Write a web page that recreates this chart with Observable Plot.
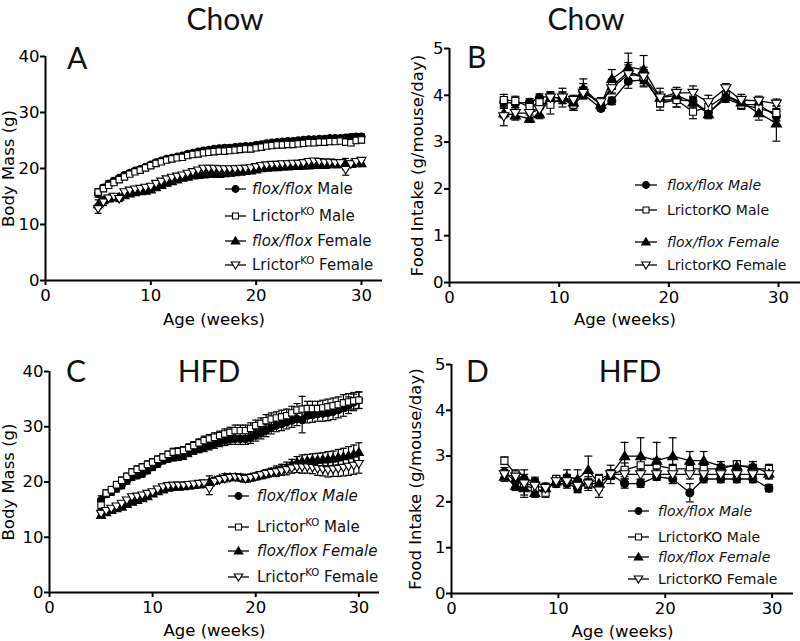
<!DOCTYPE html>
<html><head><meta charset="utf-8">
<script src="https://cdn.jsdelivr.net/npm/d3@7"></script>
<script src="https://cdn.jsdelivr.net/npm/@observablehq/plot@0.6"></script>
<style>
body{margin:0;background:#fff;}
#wrap{position:relative;width:800px;height:641px;overflow:hidden;font-family:"DejaVu Sans",sans-serif;}
.panel{position:absolute;}
#overlay{position:absolute;left:0;top:0;}
</style></head><body><div id="wrap"></div>
<script>
// ---------- data ----------
const seriesNames = ["flox/flox Male", "LrictorKO Male", "flox/flox Female", "LrictorKO Female"];
const xTicks = [0, 10, 20, 30];
const massTicks = [0, 10, 20, 30, 40];
const intakeTicks = [0, 1, 2, 3, 4, 5];

const weeksDense = [5,5.5,6,6.5,7,7.5,8,8.5,9,9.5,10,10.5,11,11.5,12,12.5,13,13.5,14,14.5,15,15.5,16,16.5,17,17.5,18,18.5,19,19.5,20,20.5,21,21.5,22,22.5,23,23.5,24,24.5,25,25.5,26,26.5,27,27.5,28,28.5,29,29.5,30];

// Panel A: Chow body mass
const fmA = [15.5,16.6,17.3,17.8,18.3,18.8,19.2,19.6,19.9,20.3,20.7,21.1,21.4,21.7,21.9,22.1,22.3,22.6,22.8,23.0,23.2,23.3,23.5,23.6,23.7,23.7,23.8,23.9,24.0,24.0,24.2,24.3,24.5,24.6,24.7,24.8,24.9,24.9,25.0,25.1,25.2,25.2,25.3,25.3,25.4,25.4,25.4,25.5,25.6,25.7,25.7];
const kmA = [15.8,16.4,17.0,17.5,18.0,18.5,19.0,19.4,19.7,20.1,20.5,20.9,21.2,21.5,21.7,21.9,22.0,22.3,22.5,22.6,22.8,22.9,23.0,23.1,23.1,23.2,23.3,23.4,23.5,23.5,23.7,23.8,24.0,24.1,24.2,24.2,24.3,24.3,24.4,24.5,24.6,24.6,24.7,24.7,24.8,24.8,24.9,24.7,24.6,25.0,25.1];
const ffA = [13.6,14.3,14.6,14.8,14.9,15.2,15.5,15.7,15.9,16.0,16.2,16.6,17.0,17.4,17.7,18.0,18.3,18.5,18.7,18.8,18.9,19.0,19.0,19.0,19.1,19.2,19.3,19.4,19.5,19.6,19.8,20.0,20.1,20.2,20.2,20.3,20.3,20.4,20.4,20.5,20.5,20.6,20.6,20.6,20.7,20.7,20.7,20.8,20.8,20.9,20.9];
const kfA = [12.8,14.0,14.7,15.0,14.6,15.8,16.1,16.3,16.4,16.6,16.8,17.3,17.7,18.1,18.4,18.6,18.8,19.1,19.4,19.7,20.0,20.0,20.0,19.9,19.9,19.9,19.9,20.0,20.0,20.1,20.3,20.5,20.6,20.7,20.7,20.8,20.8,20.9,20.9,21.0,21.2,21.3,21.2,21.1,21.1,21.0,21.0,19.8,20.8,21.2,21.4];
const semA_M = [0.6,0.5,0.5,0.5,0.4,0.4,0.4,0.4,0.4,0.4,0.4,0.4,0.4,0.4,0.4,0.4,0.4,0.4,0.4,0.4,0.4,0.4,0.4,0.4,0.4,0.4,0.4,0.4,0.4,0.4,0.4,0.4,0.4,0.4,0.4,0.4,0.4,0.4,0.4,0.4,0.4,0.4,0.4,0.4,0.4,0.4,0.4,0.5,0.5,0.5,0.5];
const semA_F = [0.8,0.6,0.5,0.5,0.5,0.4,0.4,0.4,0.4,0.4,0.4,0.4,0.4,0.4,0.4,0.4,0.4,0.4,0.4,0.4,0.4,0.4,0.4,0.4,0.4,0.4,0.4,0.4,0.4,0.4,0.4,0.4,0.4,0.4,0.4,0.4,0.4,0.4,0.4,0.4,0.4,0.4,0.4,0.4,0.4,0.4,0.4,1.0,0.5,0.5,0.5];

// Panel C: HFD body mass
const fmC = [16.7,17.8,18.2,18.8,19.4,20.2,20.9,21.2,21.5,22.1,22.7,23.3,23.9,24.2,24.5,24.6,24.8,25.3,25.7,26.0,26.3,26.6,26.9,27.2,27.5,27.7,27.8,27.8,27.8,28.0,28.4,28.8,29.3,29.8,30.2,30.5,30.8,31.1,31.4,31.2,32.0,32.1,32.3,32.4,32.5,32.7,33.0,33.4,33.9,34.4,34.8];
const kmC = [15.8,18.0,18.6,19.5,20.3,21.0,21.8,22.3,22.7,23.2,23.6,24.1,24.5,25.0,25.4,25.5,25.7,26.2,26.6,27.1,27.5,27.8,28.1,28.4,28.7,29.0,29.3,29.3,29.3,29.7,30.2,30.6,31.1,31.4,31.6,31.8,32.0,32.5,33.0,33.2,33.3,33.3,33.3,33.4,33.6,33.8,34.0,34.3,34.5,34.7,34.8];
const ffC = [14.0,14.5,14.9,15.2,15.5,16.0,16.4,16.7,17.0,17.4,17.9,18.3,18.6,18.9,19.1,19.1,19.2,19.3,19.4,19.5,19.6,20.0,20.3,20.6,20.9,20.9,20.9,20.8,20.6,20.8,21.0,21.2,21.5,21.8,22.1,22.4,22.7,23.2,23.6,23.8,23.9,24.0,24.0,24.1,24.2,24.3,24.5,24.6,24.8,25.1,25.4];
const kfC = [14.3,14.8,15.2,15.6,16.1,16.7,17.3,17.4,17.6,17.9,18.2,18.7,19.1,19.3,19.4,19.4,19.4,19.5,19.6,19.7,19.8,18.8,20.1,20.4,20.6,20.8,20.9,20.8,20.6,20.8,21.0,21.3,21.5,21.7,21.8,22.0,22.2,22.5,22.7,22.7,22.7,22.6,22.4,22.3,22.2,22.3,22.4,22.6,22.8,23.0,23.3];
const semC_M = [0.8,0.6,0.6,0.6,0.6,0.6,0.6,0.6,0.6,0.6,0.6,0.6,0.6,0.6,0.7,0.7,0.7,0.7,0.7,0.7,0.8,0.8,0.8,0.8,0.9,0.9,1.0,1.0,1.0,1.0,1.0,1.0,1.1,1.1,1.1,1.2,1.2,1.2,1.2,2.3,1.3,1.3,1.3,1.4,1.4,1.4,1.4,1.5,1.5,1.5,1.5];
const semC_F = [0.5,0.4,0.4,0.4,0.4,0.4,0.4,0.4,0.4,0.4,0.4,0.4,0.4,0.4,0.4,0.4,0.4,0.4,0.4,0.4,0.4,1.1,0.5,0.5,0.6,0.6,0.6,0.6,0.6,0.6,0.6,0.6,0.7,0.7,0.8,0.8,0.9,0.9,1.0,1.1,1.1,1.1,1.2,1.2,1.3,1.3,1.4,1.5,1.6,1.6,1.7];

// Panel B: Chow food intake
const weeksB = [4.95,6.0,7.3,8.2,9.2,10.3,11.3,12.2,13.8,14.8,16.3,17.7,19.2,20.7,22.2,23.6,25.2,26.6,28.2,29.8];
const fmB = [3.85,3.83,3.85,3.95,3.98,3.92,3.78,4.02,3.72,3.88,4.3,4.33,3.9,3.9,3.88,3.63,3.93,3.8,3.8,3.55];
const kmB = [3.9,3.88,3.75,3.85,3.8,3.95,3.8,4.1,3.8,4.2,4.5,4.4,3.83,3.9,3.65,3.75,4.0,3.8,3.72,3.62];
const ffB = [3.62,3.57,3.5,3.6,3.95,3.95,3.85,4.15,3.8,4.35,4.6,4.55,3.95,4.0,3.85,3.6,4.0,3.85,3.62,3.4];
const kfB = [3.55,3.62,3.62,3.7,3.95,3.95,3.9,4.05,3.85,4.15,4.45,4.4,3.95,4.05,4.05,3.85,4.15,3.9,3.88,3.82];
const semB_fm = [0.1,0.1,0.08,0.08,0.1,0.1,0.1,0.1,0.05,0.08,0.15,0.15,0.1,0.15,0.1,0.1,0.08,0.08,0.1,0.1];
const semB_km = [0.12,0.1,0.1,0.1,0.2,0.2,0.12,0.15,0.1,0.15,0.2,0.2,0.15,0.15,0.15,0.12,0.1,0.1,0.1,0.15];
const semB_ff = [0.1,0.1,0.08,0.1,0.1,0.12,0.1,0.2,0.1,0.2,0.3,0.3,0.2,0.1,0.1,0.1,0.1,0.1,0.15,0.38];
const semB_kf = [0.2,0.12,0.12,0.12,0.1,0.12,0.1,0.12,0.1,0.12,0.2,0.15,0.12,0.12,0.15,0.15,0.1,0.12,0.1,0.1];

// Panel D: HFD food intake
const weeksD = [4.95,6.0,6.8,7.8,8.8,9.8,10.8,11.8,12.8,13.8,14.9,16.2,17.7,19.2,20.7,22.3,23.6,25.2,26.7,28.2,29.7];
const fmD = [2.65,2.44,2.5,2.44,2.33,2.4,2.4,2.3,2.4,2.4,2.6,2.4,2.4,2.55,2.5,2.2,2.5,2.5,2.5,2.5,2.3];
const kmD = [2.9,2.6,2.35,2.3,2.2,2.5,2.5,2.4,2.4,2.5,2.6,2.7,2.8,2.8,2.72,2.72,2.72,2.72,2.82,2.72,2.72];
const ffD = [2.55,2.35,2.3,2.2,2.3,2.45,2.55,2.5,2.7,2.4,2.6,3.0,3.0,2.9,3.0,2.9,2.9,2.78,2.78,2.78,2.62];
const kfD = [2.6,2.55,2.4,2.35,2.3,2.45,2.45,2.35,2.4,2.25,2.6,2.6,2.6,2.6,2.6,2.6,2.6,2.6,2.6,2.6,2.6];
const semD_fm = [0.1,0.1,0.1,0.1,0.08,0.08,0.1,0.08,0.1,0.1,0.1,0.1,0.08,0.08,0.1,0.2,0.08,0.08,0.08,0.08,0.08];
const semD_km = [0.08,0.1,0.1,0.15,0.1,0.08,0.1,0.1,0.1,0.1,0.1,0.15,0.15,0.15,0.1,0.1,0.1,0.1,0.08,0.1,0.1];
const semD_ff = [0.1,0.1,0.15,0.1,0.08,0.1,0.15,0.2,0.3,0.15,0.2,0.3,0.4,0.4,0.4,0.2,0.2,0.1,0.1,0.1,0.1];
const semD_kf = [0.1,0.1,0.3,0.15,0.1,0.1,0.1,0.15,0.15,0.15,0.1,0.1,0.1,0.1,0.1,0.1,0.1,0.1,0.1,0.1,0.1];

// legend labels (runs: [text, italic, superscript])
const legendSup = [
  [["flox/flox", 1, 0], [" Male", 0, 0]],
  [["Lrictor", 0, 0], ["KO", 0, 1], [" Male", 0, 0]],
  [["flox/flox", 1, 0], [" Female", 0, 0]],
  [["Lrictor", 0, 0], ["KO", 0, 1], [" Female", 0, 0]]
];
const legendSupItal = [
  [["flox/flox Male", 1, 0]],
  [["Lrictor", 0, 0], ["KO", 0, 1], [" Male", 0, 0]],
  [["flox/flox Female", 1, 0]],
  [["Lrictor", 0, 0], ["KO", 0, 1], [" Female", 0, 0]]
];
const legendPlain = [
  [["flox/flox Male", 1, 0]],
  [["LrictorKO Male", 0, 0]],
  [["flox/flox Female", 1, 0]],
  [["LrictorKO Female", 0, 0]]
];

// ---------- symbols ----------
const triUp = {draw(ctx, size){ const r = Math.sqrt(size/Math.PI); const h = r*1.2; ctx.moveTo(0,-h); ctx.lineTo(h*1.05,h*0.75); ctx.lineTo(-h*1.05,h*0.75); ctx.closePath(); }};
const triDown = {draw(ctx, size){ const r = Math.sqrt(size/Math.PI); const h = r*1.2; ctx.moveTo(0,h); ctx.lineTo(h*1.05,-h*0.75); ctx.lineTo(-h*1.05,-h*0.75); ctx.closePath(); }};
const capSym = {draw(ctx, size){ const r = Math.sqrt(size/Math.PI); ctx.moveTo(-r,0); ctx.lineTo(r,0); }};
const syms = [d3.symbolCircle, d3.symbolSquare, triUp, triDown];
const filled = [true, false, true, false];

const wrap = document.getElementById("wrap");

function drawPanel(cfg) {
  const rows = [];
  cfg.values.forEach((vals, i) => vals.forEach((v, j) => {
    const e = cfg.sems[i][j];
    rows.push({series: seriesNames[i], idx: i, week: cfg.weeks[j], value: v, lo: v - e, hi: v + e});
  }));
  const chart = Plot.plot({
    width: cfg.width, height: cfg.height,
    marginLeft: cfg.ml, marginRight: cfg.mr, marginTop: cfg.mt, marginBottom: cfg.mb,
    style: {fontFamily: "DejaVu Sans", fontSize: "16.5px", color: "black", background: "transparent", overflow: "visible"},
    x: {domain: [0, 32]},
    y: {domain: cfg.yDomain},
    marks: [
      Plot.axisX({ticks: xTicks, tickFormat: d => String(d), tickSize: 5, tickPadding: 4, strokeWidth: 2, fontSize: 16.5,
        label: "Age (weeks)", labelAnchor: "center", labelArrow: "none", labelOffset: cfg.xlo}),
      Plot.axisY({ticks: cfg.yTicks, tickFormat: d => String(d), tickSize: 5, tickPadding: 1, strokeWidth: 2, fontSize: 16.5,
        label: cfg.yLabel, labelAnchor: "center", labelArrow: "none", labelOffset: cfg.ylo}),
      Plot.ruleX([0], {strokeWidth: 2}),
      Plot.ruleY([0], {strokeWidth: 2}),
      Plot.ruleX(rows, {x: "week", y1: "lo", y2: "hi", stroke: "black", strokeWidth: 1.2}),
      Plot.dot(rows, {x: "week", y: "lo", symbol: capSym, r: cfg.cap, stroke: "black", strokeWidth: 1.2}),
      Plot.dot(rows, {x: "week", y: "hi", symbol: capSym, r: cfg.cap, stroke: "black", strokeWidth: 1.2}),
      Plot.line(rows, {x: "week", y: "value", z: "series", stroke: "black", strokeWidth: 1.3}),
      ...[0, 1, 2, 3].map(i => Plot.dot(rows.filter(d => d.idx === i), {
        x: "week", y: "value", symbol: syms[i], r: cfg.r,
        fill: filled[i] ? "black" : "white", stroke: "black", strokeWidth: 1.1
      }))
    ]
  });
  const div = document.createElement("div");
  div.className = "panel";
  div.style.left = cfg.left + "px";
  div.style.top = cfg.top + "px";
  div.appendChild(chart);
  wrap.appendChild(div);
}

drawPanel({left: 0, top: 0, width: 400, height: 330, ml: 45, mr: 18, mt: 56, mb: 50,
  yDomain: [0, 40], yTicks: massTicks, yLabel: "Body Mass (g)", xlo: 44, ylo: 43,
  weeks: weeksDense, values: [fmA, kmA, ffA, kfA], sems: [semA_M, semA_M, semA_F, semA_F], r: 3.6, cap: 3.5});
drawPanel({left: 400, top: 0, width: 400, height: 330, ml: 49, mr: 0, mt: 48, mb: 48,
  yDomain: [0, 5], yTicks: intakeTicks, yLabel: "Food Intake (g/mouse/day)", xlo: 42, ylo: 38,
  weeks: weeksB, values: [fmB, kmB, ffB, kfB], sems: [semB_fm, semB_km, semB_ff, semB_kf], r: 4, cap: 4});
drawPanel({left: 0, top: 330, width: 400, height: 311, ml: 49, mr: 21, mt: 41, mb: 49,
  yDomain: [0, 40], yTicks: massTicks, yLabel: "Body Mass (g)", xlo: 43, ylo: 47,
  weeks: weeksDense, values: [fmC, kmC, ffC, kfC], sems: [semC_M, semC_M, semC_F, semC_F], r: 3.6, cap: 3.5});
drawPanel({left: 400, top: 330, width: 400, height: 311, ml: 51, mr: 7, mt: 34, mb: 48,
  yDomain: [0, 5], yTicks: intakeTicks, yLabel: "Food Intake (g/mouse/day)", xlo: 43, ylo: 42,
  weeks: weeksD, values: [fmD, kmD, ffD, kfD], sems: [semD_fm, semD_km, semD_ff, semD_kf], r: 4, cap: 4});

// ---------- overlay: titles, panel letters, legends ----------
const svg = d3.select(wrap).append("svg").attr("id", "overlay").attr("width", 800).attr("height", 641);
const big = [
  ["Chow", 225, 30, "middle"], ["Chow", 586, 30, "middle"],
  ["A", 67, 69, "start"], ["B", 467, 68, "start"],
  ["C", 66, 382, "start"], ["D", 466, 382, "start"],
  ["HFD", 209, 382, "middle"], ["HFD", 630, 382, "middle"]
];
big.forEach(([t, x, y, a]) => svg.append("text").attr("x", x).attr("y", y).attr("text-anchor", a)
  .attr("font-family", "Lato, 'Open Sans', sans-serif").attr("font-size", 30).attr("fill", "#111").text(t));

function legend(spec) {
  spec.rows.forEach((yc, i) => {
    const g = svg.append("g");
    g.append("line").attr("x1", spec.x0).attr("x2", spec.x1).attr("y1", yc).attr("y2", yc)
      .attr("stroke", "black").attr("stroke-width", 1.3);
    const p = d3.path();
    syms[i].draw(p, Math.PI * spec.r * spec.r);
    g.append("path").attr("d", p.toString()).attr("transform", `translate(${(spec.x0 + spec.x1) / 2},${yc})`)
      .attr("fill", filled[i] ? "black" : "white").attr("stroke", "black").attr("stroke-width", 1.1);
    const txt = g.append("text").attr("x", spec.tx).attr("y", yc + spec.fs * 0.36)
      .attr("font-family", "'DejaVu Sans', sans-serif").attr("font-size", spec.fs).attr("fill", "#111");
    let sup = false;
    spec.labels[i].forEach(([t, it, s]) => {
      const ts = txt.append("tspan").text(t).attr("font-style", it ? "italic" : "normal");
      if (s) { ts.attr("font-size", spec.fs * 0.68).attr("dy", -spec.fs * 0.42); sup = true; }
      else if (sup) { ts.attr("dy", spec.fs * 0.42); sup = false; }
    });
  });
}
legend({rows: [189, 216, 241, 265], x0: 225, x1: 246, tx: 252, fs: 15, r: 3.4, labels: legendSup});
legend({rows: [185, 210, 242, 265], x0: 635, x1: 657, tx: 667, fs: 14, r: 3.4, labels: legendPlain});
legend({rows: [496, 527, 551, 577], x0: 228, x1: 249, tx: 257, fs: 15, r: 3.4, labels: legendSupItal});
legend({rows: [511, 537, 557, 579], x0: 628, x1: 649, tx: 658, fs: 14, r: 3.4, labels: legendPlain});
</script>
</body></html>
